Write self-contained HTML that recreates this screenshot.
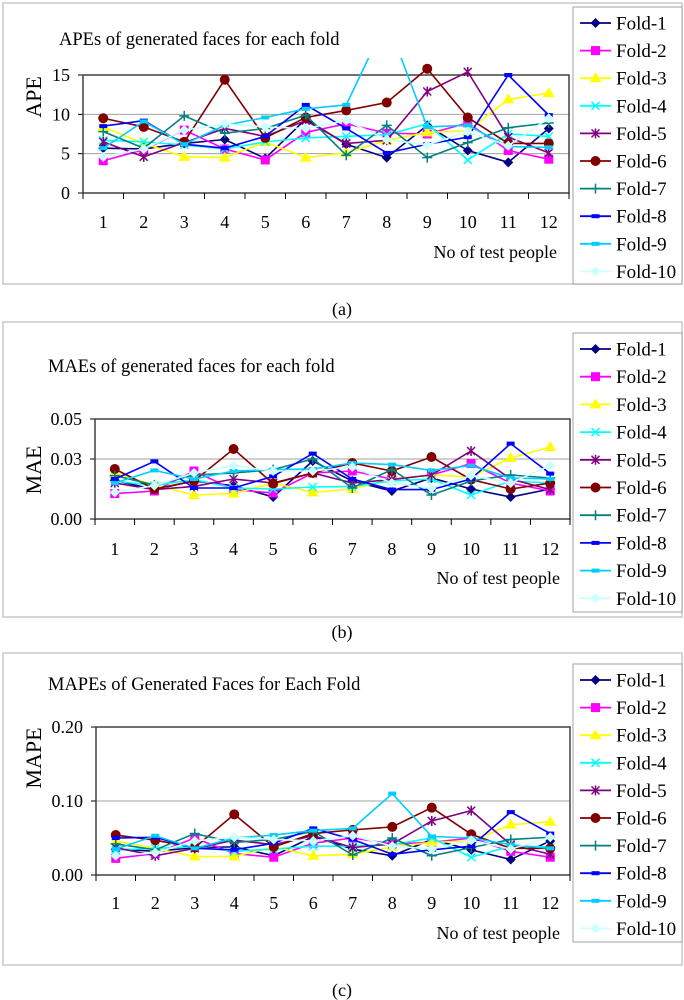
<!DOCTYPE html>
<html><head><meta charset="utf-8"><style>
body{margin:0;background:#fff;width:684px;height:1000px;overflow:hidden}
svg{display:block}
text{font-family:"Liberation Serif",serif}
</style></head><body>
<svg id="chart" width="684" height="1000" viewBox="0 0 684 1000" xmlns="http://www.w3.org/2000/svg"></svg>
<script>
const categories=["1","2","3","4","5","6","7","8","9","10","11","12"];
const seriesNames=["Fold-1","Fold-2","Fold-3","Fold-4","Fold-5","Fold-6","Fold-7","Fold-8","Fold-9","Fold-10"];
const apeF1=[5.7,5.6,6.3,6.8,4.4,9.4,6.2,4.5,8.6,5.4,3.9,8.2];
const apeF2=[4.1,5.5,8.0,5.6,4.2,7.7,8.8,7.6,7.5,8.9,5.4,4.3];
const apeF3=[8.4,6.3,4.6,4.5,6.5,4.5,5.1,6.7,7.7,7.9,11.9,12.7];
const apeF4=[6.7,6.5,6.1,5.6,6.5,7.0,7.2,7.4,8.8,4.2,7.5,7.2];
const apeF5=[6.5,4.6,6.4,8.2,7.2,9.2,6.3,6.7,12.9,15.4,7.1,5.1];
const apeF6=[9.5,8.4,6.5,14.4,7.0,9.6,10.5,11.5,15.8,9.6,6.3,6.3];
const apeF7=[7.8,5.7,9.8,7.6,8.2,9.9,4.8,8.6,4.5,6.4,8.3,8.9];
const apeF8=[8.5,9.2,6.2,5.7,7.2,11.2,8.2,5.1,6.2,7.1,15.0,9.9];
const apeF9=[5.7,9.1,6.2,8.6,9.6,10.7,11.2,22,8.4,8.6,5.9,5.8];
const apeF10=[4.6,5.6,8.0,8.8,8.4,8.2,9.2,6.8,6.1,7.8,6.0,9.5];
const maeF1=[0.0193,0.0147,0.019,0.0167,0.011,0.029,0.019,0.014,0.0205,0.015,0.011,0.015];
const maeF2=[0.0127,0.014,0.024,0.0147,0.013,0.023,0.024,0.020,0.022,0.0277,0.018,0.014];
const maeF3=[0.023,0.017,0.012,0.0127,0.018,0.0133,0.015,0.020,0.022,0.021,0.0305,0.036];
const maeF4=[0.019,0.0167,0.0197,0.0155,0.015,0.016,0.0163,0.019,0.020,0.012,0.019,0.018];
const maeF5=[0.018,0.0147,0.0163,0.020,0.018,0.023,0.018,0.0197,0.022,0.034,0.020,0.0147];
const maeF6=[0.025,0.015,0.019,0.035,0.0177,0.023,0.028,0.024,0.031,0.0197,0.015,0.018];
const maeF7=[0.0217,0.017,0.022,0.023,0.0247,0.030,0.0155,0.0247,0.012,0.019,0.022,0.0205];
const maeF8=[0.020,0.0288,0.0155,0.0155,0.0213,0.0327,0.020,0.0147,0.0147,0.020,0.0377,0.0227];
const maeF9=[0.018,0.0243,0.020,0.024,0.0247,0.025,0.028,0.0272,0.0243,0.0267,0.0205,0.020];
const maeF10=[0.0133,0.0167,0.023,0.0267,0.024,0.024,0.026,0.018,0.0155,0.0217,0.018,0.0267];
const mapeF1=[0.035,0.032,0.037,0.038,0.026,0.052,0.035,0.026,0.048,0.034,0.021,0.046];
const mapeF2=[0.0225,0.029,0.05,0.029,0.024,0.043,0.05,0.042,0.044,0.05,0.032,0.024];
const mapeF3=[0.046,0.036,0.025,0.025,0.038,0.026,0.028,0.038,0.044,0.046,0.068,0.072];
const mapeF4=[0.034,0.036,0.038,0.032,0.035,0.039,0.039,0.041,0.05,0.024,0.039,0.038];
const mapeF5=[0.037,0.026,0.036,0.047,0.041,0.053,0.037,0.042,0.073,0.087,0.041,0.028];
const mapeF6=[0.054,0.047,0.037,0.082,0.038,0.056,0.061,0.065,0.091,0.055,0.036,0.036];
const mapeF7=[0.042,0.034,0.056,0.044,0.048,0.059,0.027,0.05,0.026,0.037,0.048,0.051];
const mapeF8=[0.05,0.051,0.036,0.034,0.043,0.063,0.048,0.028,0.034,0.039,0.085,0.056];
const mapeF9=[0.035,0.053,0.036,0.05,0.054,0.06,0.063,0.11,0.052,0.05,0.041,0.036];
const mapeF10=[0.026,0.03,0.046,0.051,0.048,0.046,0.053,0.039,0.035,0.047,0.035,0.051];
const apeTicks=["0","5","10","15"];
const maeTicks=["0.00","0.03","0.05"];
const mapeTicks=["0.00","0.10","0.20"];

const colors=["#000080","#FF00FF","#FFFF00","#00FFFF","#800080","#800000","#008080","#0000FF","#00CCFF","#CCFFFF"];
const markers=["diamond","square","triangle","x","star","circle","plus","dash","dash","diamond"];
const NS="http://www.w3.org/2000/svg";
const svg=document.getElementById('chart');
function mk(tag,attrs,parent){const e=document.createElementNS(NS,tag);for(const k in attrs)e.setAttribute(k,attrs[k]);if(tag==='text')e.setAttribute('font-family','Liberation Serif, serif');(parent||svg).appendChild(e);return e;}
function marker(g,type,x,y,c){
  let e;
  if(type==="diamond"){e=mk('polygon',{points:`${x},${y-5} ${x+5},${y} ${x},${y+5} ${x-5},${y}`,fill:c},g);}
  else if(type==="square"){e=mk('rect',{x:x-4.5,y:y-4.5,width:9,height:9,fill:c},g);}
  else if(type==="triangle"){e=mk('polygon',{points:`${x},${y-6} ${x+6},${y+4} ${x-6},${y+4}`,fill:c},g);}
  else if(type==="circle"){e=mk('circle',{cx:x,cy:y,r:5,fill:c},g);}
  else if(type==="x"){e=mk('path',{d:`M${x-4},${y-4}L${x+4},${y+4}M${x+4},${y-4}L${x-4},${y+4}`,stroke:c,'stroke-width':1.5,fill:'none'},g);}
  else if(type==="star"){e=mk('path',{d:`M${x-4},${y-4}L${x+4},${y+4}M${x+4},${y-4}L${x-4},${y+4}M${x},${y-5}L${x},${y+5}`,stroke:c,'stroke-width':1.5,fill:'none'},g);}
  else if(type==="plus"){e=mk('path',{d:`M${x-5},${y}L${x+5},${y}M${x},${y-5}L${x},${y+5}`,stroke:c,'stroke-width':1.5,fill:'none'},g);}
  else {e=mk('rect',{x:x-4,y:y-2,width:8,height:4,fill:c},g);}
  
  
}
function panel(cfg){
  const P=mk('g',{});
  
  
  const box=mk('rect',{x:3,y:cfg.boxY,width:679,height:cfg.boxH,fill:'#fff',stroke:'#c8c8c8','stroke-width':1.5},P);
  
  
  const t=mk('text',{x:cfg.titleX,y:cfg.titleY,'font-size':18.5},P);t.textContent=cfg.title;
  
  
  const L=cfg.px0,R=cfg.px1,T=cfg.py1,B=cfg.py0;
  const yS=v=>B-(v-cfg.min)/(cfg.max-cfg.min)*(B-T);
  const step=(R-L)/categories.length;
  const xS=i=>L+step*(i+0.5);
  cfg.ticks.forEach(tl=>{
    const v=parseFloat(tl),y=yS(v);
    const gl=mk('line',{x1:L,x2:R,y1:y,y2:y,stroke:'#a0a0a0','stroke-width':1},P);
    
    
    mk('line',{x1:L-5,x2:L,y1:y,y2:y,stroke:'#000'},P);
    const tx=mk('text',{x:L-13,y:y+6,'font-size':18,'text-anchor':'end'},P);tx.textContent=tl;
    
    
  });
  const pb=mk('rect',{x:L,y:T,width:R-L,height:B-T,fill:'none',stroke:'#404040','stroke-width':1.5},P);
  
  
  for(let i=0;i<=categories.length;i++){mk('line',{x1:L+step*i,x2:L+step*i,y1:B,y2:B+6,stroke:'#000'},P);}
  categories.forEach((c,i)=>{
    const tx=mk('text',{x:xS(i),y:cfg.catY,'font-size':18,'text-anchor':'middle'},P);tx.textContent=c;
    
    
  });
  const xl=mk('text',{x:cfg.xlX,y:cfg.xlY,'font-size':18,'text-anchor':'end'},P);xl.textContent="No of test people";
  
  
  const yl=mk('text',{x:0,y:0,'font-size':22,'text-anchor':'middle',transform:`translate(${cfg.ylX},${cfg.ylY}) rotate(-90)`},P);yl.textContent=cfg.ylabel;
  
  
  const cid='clip'+cfg.name;
  const cp=mk('clipPath',{id:cid},P);mk('rect',{x:L-10,y:cfg.clipTop,width:R-L+20,height:B-cfg.clipTop+10},cp);
  const SG=mk('g',{'clip-path':`url(#${cid})`},P);
  cfg.series.forEach((arr,s)=>{
    const g=mk('g',{},SG);
    
    
    const pts=arr.map((v,i)=>`${xS(i)},${yS(v)}`).join(' ');
    mk('polyline',{points:pts,fill:'none',stroke:colors[s],'stroke-width':1.6},g);
    arr.forEach((v,i)=>marker(g,markers[s],xS(i),yS(v),colors[s]));
  });
  const lg=mk('g',{},P);
  
  
  mk('rect',{x:573,y:cfg.legY,width:109,height:cfg.legH,fill:'#fff',stroke:'#a0a0a0'},lg);
  seriesNames.forEach((n,s)=>{
    const y=cfg.leg0+s*cfg.legStep;
    const e=mk('g',{},lg);
    
    
    mk('line',{x1:580,x2:611,y1:y,y2:y,stroke:colors[s],'stroke-width':1.8},e);
    marker(e,markers[s],595.5,y,colors[s]);
    const tx=mk('text',{x:616,y:y+6.5,'font-size':19},e);tx.textContent=n;
  });
  const cap=mk('text',{x:342,y:cfg.capY,'font-size':18,'text-anchor':'middle'},P);cap.textContent=cfg.cap;
  
  
}
panel({name:'ape-chart',boxY:3,boxH:281,title:'APEs of generated faces for each fold',titleX:59,titleY:45,
  px0:83,px1:569,py0:193,py1:75,min:0,max:15,ticks:apeTicks,catY:228,xlX:557,xlY:258,ylabel:'APE',ylX:41,ylY:97,clipTop:58,
  series:[apeF1,apeF2,apeF3,apeF4,apeF5,apeF6,apeF7,apeF8,apeF9,apeF10],legY:7,legH:277,leg0:23,legStep:27.6,capY:315,cap:'(a)'});
panel({name:'mae-chart',boxY:322,boxH:295,title:'MAEs of generated faces for each fold',titleX:48,titleY:372,
  px0:95,px1:570,py0:519,py1:419,min:0,max:0.05,ticks:maeTicks,catY:555,xlX:560,xlY:584,ylabel:'MAE',ylX:41,ylY:470,clipTop:400,
  series:[maeF1,maeF2,maeF3,maeF4,maeF5,maeF6,maeF7,maeF8,maeF9,maeF10],legY:333,legH:279,leg0:349,legStep:27.7,capY:638,cap:'(b)'});
panel({name:'mape-chart',boxY:653,boxH:312,title:'MAPEs of Generated Faces for Each Fold',titleX:48,titleY:690,
  px0:96,px1:570,py0:875,py1:727,min:0,max:0.2,ticks:mapeTicks,catY:909,xlX:560,xlY:939,ylabel:'MAPE',ylX:41,ylY:758,clipTop:700,
  series:[mapeF1,mapeF2,mapeF3,mapeF4,mapeF5,mapeF6,mapeF7,mapeF8,mapeF9,mapeF10],legY:664,legH:278,leg0:680,legStep:27.6,capY:996,cap:'(c)'});
</script>
</body></html>
